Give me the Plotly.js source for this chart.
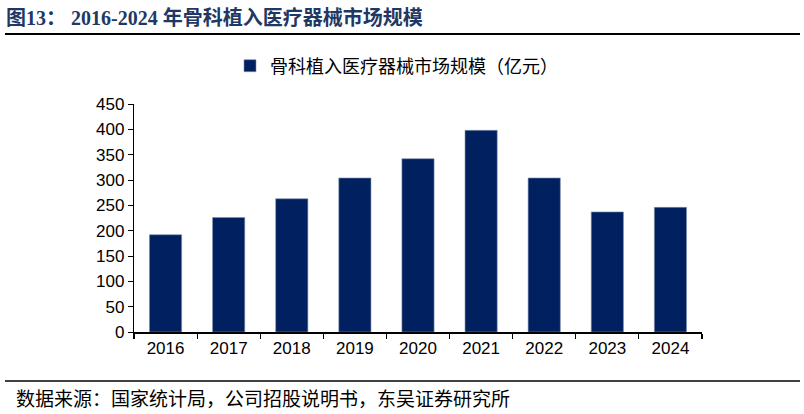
<!DOCTYPE html>
<html>
<head>
<meta charset="utf-8">
<script src="https://cdn.plot.ly/plotly-3.0.1.min.js"></script>
<style>body{margin:0;padding:0;background:#fff;} #chart{width:804px;height:414px;}</style>
</head>
<body>
<div id="chart"></div>
<script>
const years = ['2016','2017','2018','2019','2020','2021','2022','2023','2024'];
const marketSize = [192, 226, 263, 304, 342, 398, 304, 237, 246];
const seriesName = '骨科植入医疗器械市场规模（亿元）';
const chartTitle = '图13： 2016-2024 年骨科植入医疗器械市场规模';
const sourceNote = '数据来源：国家统计局，公司招股说明书，东吴证券研究所';
const yTicks = [0,50,100,150,200,250,300,350,400,450];

const L = 134, R = 702, T = 104, B = 332;
const px = x => (x - L) / (R - L);
const py = y => (B - y) / (B - T);

const trace = {
  type: 'bar', x: years, y: marketSize, name: seriesName,
  marker: {color: '#002060', line: {color: '#8090b0', width: 0.6}},
  showlegend: true
};

const layout = {
  width: 804, height: 414,
  margin: {l: L, r: 804 - R, t: T, b: 414 - B},
  paper_bgcolor: '#fff', plot_bgcolor: '#fff',
  bargap: 0.49,
  font: {family: 'Liberation Sans, Arial, "Noto Sans CJK SC", sans-serif', color: '#000', size: 16},
  xaxis: {
    type: 'category', showline: true, linecolor: '#000', linewidth: 1.5,
    ticks: 'outside', tickson: 'boundaries', ticklen: 5, tickcolor: '#000', tickwidth: 1.2,
    showgrid: false, tickfont: {size: 17}, mirror: false
  },
  yaxis: {
    range: [0, 450], tickvals: yTicks, ticktext: yTicks.map(String),
    showline: true, linecolor: '#000', linewidth: 1.2,
    ticks: 'outside', ticklen: 5, tickcolor: '#000',
    showgrid: false, zeroline: false, tickfont: {size: 17}
  },
  legend: {
    orientation: 'h', x: px(230), y: py(66), xanchor: 'left', yanchor: 'middle',
    font: {family: '"Noto Sans CJK SC", sans-serif', size: 18, color: '#000'},
    itemwidth: 30, bgcolor: 'rgba(0,0,0,0)'
  },
  annotations: [
    {text: '<b>' + chartTitle + '</b>', xref: 'paper', yref: 'paper', x: px(4), y: py(17),
     xanchor: 'left', yanchor: 'middle', showarrow: false,
     font: {family: '"Liberation Serif", "Noto Sans CJK SC", serif', size: 20, color: '#1F3864'}},
    {text: sourceNote, xref: 'paper', yref: 'paper', x: px(14), y: py(397),
     xanchor: 'left', yanchor: 'middle', showarrow: false,
     font: {family: '"Noto Sans CJK SC", sans-serif', size: 19, color: '#000'}}
  ],
  shapes: [
    {type: 'line', xref: 'paper', yref: 'paper', x0: px(5), x1: px(800), y0: py(34), y1: py(34),
     line: {color: '#000', width: 2}},
    {type: 'line', xref: 'paper', yref: 'paper', x0: px(5), x1: px(800), y0: py(381), y1: py(381),
     line: {color: '#000', width: 1.5}}
  ]
};

Plotly.newPlot('chart', [trace], layout, {displayModeBar: false, staticPlot: true});
</script>
</body>
</html>
